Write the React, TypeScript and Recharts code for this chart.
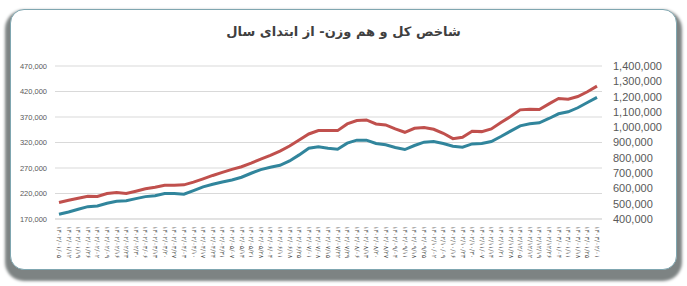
import React from 'react';
import { LineChart, Line, XAxis, YAxis, CartesianGrid } from 'recharts';

const dates = [
  '1402/01/05', '1402/01/12', '1402/01/19', '1402/01/26', '1402/02/02', '1402/02/09',
  '1402/02/16', '1402/02/23', '1402/02/30', '1402/03/06', '1402/03/13', '1402/03/20',
  '1402/03/27', '1402/04/03', '1402/04/10', '1402/04/17', '1402/04/24', '1402/04/31',
  '1402/05/07', '1402/05/14', '1402/05/21', '1402/05/28', '1402/06/04', '1402/06/11',
  '1402/06/18', '1402/06/25', '1402/07/01', '1402/07/08', '1402/07/15', '1402/07/22',
  '1402/07/29', '1402/08/06', '1402/08/13', '1402/08/20', '1402/08/27', '1402/09/04',
  '1402/09/11', '1402/09/18', '1402/09/25', '1402/10/02', '1402/10/09', '1402/10/16',
  '1402/10/23', '1402/10/30', '1402/11/07', '1402/11/14', '1402/11/21', '1402/11/28',
  '1402/12/05', '1402/12/12', '1402/12/19', '1402/12/26', '1403/01/04', '1403/01/11',
  '1403/01/18', '1403/01/25', '1403/02/01',
];

// total index (right axis)
const totalIndex = [
  507400, 522700, 535800, 549000, 546800, 566500, 573000, 566500, 581800, 597100,
  608000, 621100, 621100, 623300, 640800, 662700, 684600, 704300, 724000, 741400,
  765500, 791800, 815800, 844200, 877100, 916400, 955800, 977700, 977700, 977700,
  1021400, 1043300, 1047700, 1021400, 1014900, 988600, 966800, 993000, 997400, 986400,
  960200, 925200, 934000, 973300, 971100, 988600, 1030200, 1069500, 1113300, 1117700,
  1115500, 1152700, 1187600, 1183300, 1200800, 1231400, 1268600,
];

// equal weight index (left axis)
const equalWeight = [
  179200, 183800, 189000, 194200, 195500, 200800, 204700, 206000, 209900, 213900,
  215800, 219800, 219800, 218500, 225700, 232900, 238100, 242700, 246600, 251900,
  259700, 266900, 271500, 275400, 283900, 295700, 308800, 311500, 308800, 306900,
  318700, 324600, 324600, 318000, 315400, 310100, 306200, 314100, 320600, 321900,
  318000, 312800, 310800, 317300, 318000, 321900, 331700, 342200, 352700, 356600,
  358600, 367100, 376300, 380200, 388100, 398500, 408400,
];

const leftTicks = [170000, 220000, 270000, 320000, 370000, 420000, 470000];
const rightTicks = [
  400000, 500000, 600000, 700000, 800000, 900000, 1000000, 1100000, 1200000, 1300000, 1400000,
];

const title = 'شاخص کل و هم وزن- از ابتدای سال';

const rows = dates.map((d, i) => ({
  date: d,
  total: totalIndex[i],
  equal: equalWeight[i],
}));

const faDigits = '۰۱۲۳۴۵۶۷۸۹';
const toFa = (s: string) => s.replace(/[0-9]/g, (c) => faDigits[+c]);
const fmt = (v: number) => v.toLocaleString('en-US');

const DateTick = (props: any) => {
  const { x, y, payload } = props;
  return (
    <text
      x={x}
      y={y}
      transform={`rotate(90 ${x} ${y})`}
      textAnchor="start"
      dominantBaseline="central"
      fontSize={6.5}
      fontFamily="DejaVu Sans"
      fill="#595959"
    >
      {toFa(payload.value)}
    </text>
  );
};

export default function App() {
  return (
    <div style={{ position: 'absolute', left: 0, top: 0, width: 687, height: 286, background: '#fff' }}>
      {/* rounded frame with shadow */}
      <div
        style={{
          position: 'absolute',
          left: 10,
          top: 9,
          width: 665,
          height: 259,
          borderRadius: 14,
          border: '1px solid #7fa6b0',
          boxShadow: '0 6px 3px 5px #7d8383',
          background: '#fff',
        }}
      />
      <div
        style={{
          position: 'absolute',
          left: 0,
          width: 687,
          top: 24,
          textAlign: 'center',
          fontFamily: 'DejaVu Sans',
          fontWeight: 'bold',
          fontSize: 13,
          color: '#404040',
          direction: 'rtl',
        }}
      >
        {title}
      </div>
      <div style={{ position: 'absolute', left: 0, top: 0 }}>
        <LineChart
          width={687}
          height={286}
          data={rows}
          margin={{ top: 66, right: 0, bottom: 0, left: 0 }}
        >
          <CartesianGrid yAxisId="left" vertical={false} stroke="#d9d9d9" />
          <XAxis
            dataKey="date"
            interval={0}
            height={67}
            padding={{ left: 4, right: 5 }}
            axisLine={{ stroke: '#d9d9d9' }}
            tickLine={false}
            tickSize={0}
            tickMargin={7}
            tick={<DateTick />}
          />
          <YAxis
            yAxisId="left"
            orientation="left"
            width={55}
            domain={[170000, 470000]}
            ticks={leftTicks}
            interval={0}
            axisLine={false}
            tickLine={false}
            tickSize={0}
            tickMargin={8}
            tickFormatter={fmt}
            tick={{ fontSize: 7.5, fill: '#595959', fontFamily: 'Liberation Sans' }}
          />
          <YAxis
            yAxisId="right"
            orientation="right"
            width={85}
            domain={[400000, 1400000]}
            ticks={rightTicks}
            interval={0}
            axisLine={false}
            tickLine={false}
            tickSize={0}
            tickMargin={11}
            tickFormatter={fmt}
            tick={{ fontSize: 11, fill: '#595959', fontFamily: 'Liberation Sans' }}
          />
          <Line
            yAxisId="right"
            dataKey="total"
            stroke="#c0504d"
            strokeWidth={3}
            dot={false}
            isAnimationActive={false}
          />
          <Line
            yAxisId="left"
            dataKey="equal"
            stroke="#31859c"
            strokeWidth={3}
            dot={false}
            isAnimationActive={false}
          />
        </LineChart>
      </div>
    </div>
  );
}
